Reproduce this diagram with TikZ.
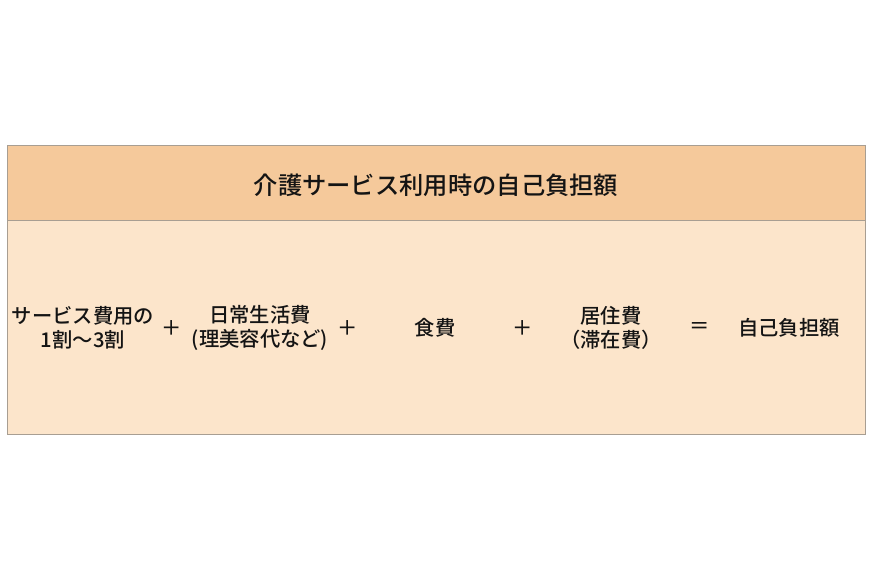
\documentclass[tikz,border=0pt]{standalone}
\usepackage{fontspec}
\setmainfont{Noto Sans CJK JP Medium}
\usetikzlibrary{positioning}

\definecolor{headfill}{HTML}{F5C99B}
\definecolor{bodyfill}{HTML}{FCE5CB}
\definecolor{framegray}{HTML}{A89E92}
\definecolor{inkblack}{HTML}{141414}

\begin{document}
\begin{tikzpicture}[x=1pt,y=-1pt,font=\fontsize{20.3}{24}\selectfont,
    item/.style={align=center,inner sep=0pt,text=inkblack},
    sign/.style={inner sep=0pt,text=inkblack}]
    \useasboundingbox (0,0) rectangle (870,580);
    \fill [white] (0,0) rectangle (870,580);
    % table frame
    \draw [framegray,fill=headfill] (7,145) rectangle (865,220);
    \draw [framegray,fill=bodyfill] (7,220) rectangle (865,434);
    \node [item] (title) at (436,185) {\fontsize{24.3}{28}\selectfont 介護サービス利用時の自己負担額};
    % formula row
    \node [item] (svcfee) at (83,328) {サービス費用の\\1割〜3割};
    \node [sign] (plusA) at (172,328) {＋};
    \node [item] (dailyfee) at (260,328) {日常生活費\\(理美容代など)};
    \node [sign] (plusB) at (348,328) {＋};
    \node [item] (foodfee) at (435,328) {食費};
    \node [sign] (plusC) at (523,328) {＋};
    \node [item] (stayfee) at (611,328) {居住費\\（滞在費）};
    \node [sign] (equal) at (700,328) {＝};
    \node [item] (total) at (789,328) {自己負担額};
\end{tikzpicture}
\end{document}
